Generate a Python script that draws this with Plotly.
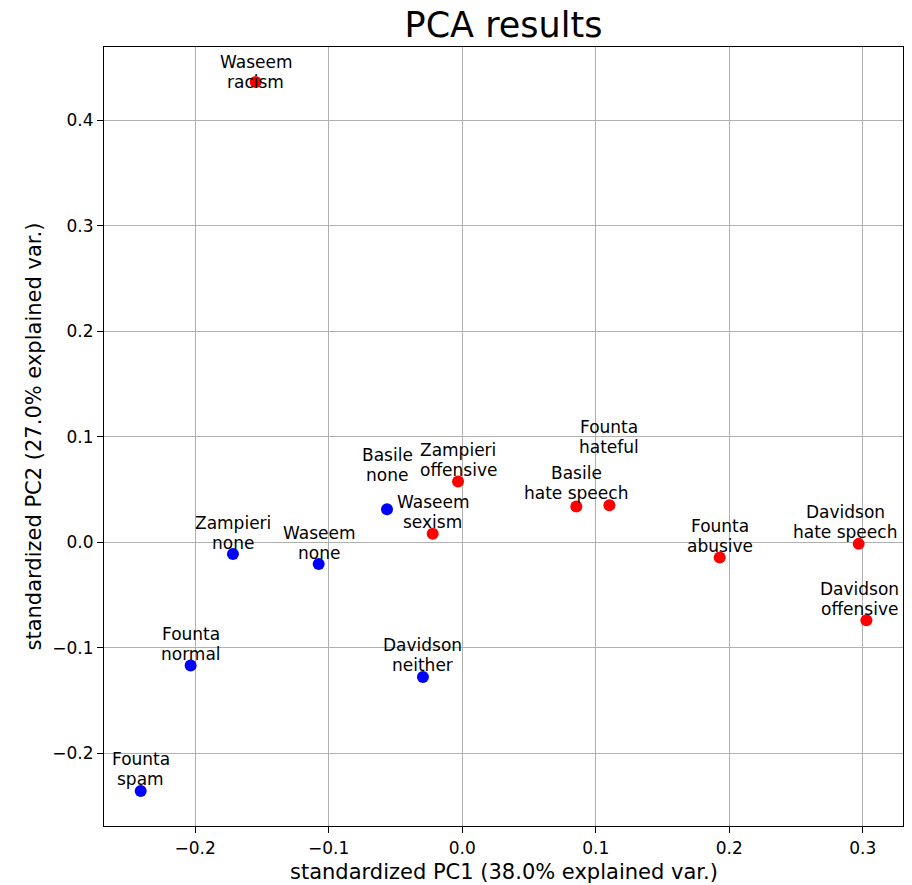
import plotly.graph_objects as go

# PCA coordinates of each dataset/class pair
datasets = ["Waseem", "Basile", "Zampieri", "Waseem", "Basile", "Founta", "Founta",
            "Davidson", "Davidson", "Zampieri", "Waseem", "Founta", "Davidson", "Founta"]
classes = ["racism", "none", "offensive", "sexism", "hate speech", "hateful", "abusive",
           "hate speech", "offensive", "none", "none", "normal", "neither", "spam"]
pc1 = [-0.1547, -0.0563, -0.0031, -0.0221, 0.0855, 0.1103, 0.1929,
       0.2970, 0.3028, -0.1717, -0.1075, -0.2034, -0.0294, -0.2408]
pc2 = [0.4364, 0.0314, 0.0576, 0.0080, 0.0339, 0.0352, -0.0145,
       -0.0015, -0.0739, -0.0110, -0.0205, -0.1169, -0.1277, -0.2358]
offensive = [True, False, True, True, True, True, True,
             True, True, False, False, False, False, False]

x_ticks = [-0.2, -0.1, 0.0, 0.1, 0.2, 0.3]
y_ticks = [-0.2, -0.1, 0.0, 0.1, 0.2, 0.3, 0.4]

x_title = "standardized PC1 (38.0% explained var.)"
y_title = "standardized PC2 (27.0% explained var.)"

FONT = "DejaVu Sans"
LINE_GAP = 19.8          # px between the two label lines
# px from marker centre up to the lower label line (nudged so labels do not collide)
rise = [0.5, 34.0, 11.4, 12.0, 13.7, 58.0, 11.7, 12.0, 11.6, 11.3, 11.3, 12.0, 11.7, 11.7]
nudge_x = [0, 0, 0, 0, 0, 0, 0, -13.5, -7, 0, 0, 0, 0, 0]

colors = ["#ff0000" if o else "#0000ff" for o in offensive]

fig = go.Figure()
fig.add_trace(go.Scatter(
    x=pc1, y=pc2, mode="markers",
    marker=dict(size=12, color=colors, line=dict(width=0)),
    hovertext=[f"{d} {c}" for d, c in zip(datasets, classes)],
    showlegend=False,
))

annotations = []
for d, c, x, y, r, dx in zip(datasets, classes, pc1, pc2, rise, nudge_x):
    for txt, shift in ((d, r + LINE_GAP), (c, r)):
        annotations.append(dict(
            x=x, y=y, xref="x", yref="y", text=txt, showarrow=False,
            xanchor="center", yanchor="middle", yshift=shift, xshift=dx,
            font=dict(family=FONT, size=17, color="black"),
        ))

# axis titles placed relative to the plotting area
annotations.append(dict(
    x=0.5, y=0, xref="paper", yref="paper", text=x_title, showarrow=False,
    xanchor="center", yanchor="middle", yshift=-46,
    font=dict(family=FONT, size=21, color="black"),
))
annotations.append(dict(
    x=0, y=0.5, xref="paper", yref="paper", text=y_title, showarrow=False,
    xanchor="center", yanchor="middle", xshift=-71, textangle=-90,
    font=dict(family=FONT, size=21, color="black"),
))

axis_common = dict(
    showgrid=True, gridcolor="#b0b0b0", gridwidth=1,
    zeroline=False, showline=True, linecolor="black", linewidth=1.2, mirror=True,
    ticks="outside", ticklen=6, tickwidth=1.2, tickcolor="black",
    tickfont=dict(family=FONT, size=17, color="black"),
    tickformat=".1f", automargin=False,
)

fig.update_layout(
    width=912, height=885,
    margin=dict(l=104, r=9, t=47, b=59),
    paper_bgcolor="white", plot_bgcolor="white",
    title=dict(text="PCA results", x=0.5, xref="paper", y=1 - 25 / 885, yanchor="middle",
               font=dict(family=FONT, size=35, color="black")),
    xaxis=dict(range=[-0.2683, 0.3302], tickvals=x_ticks, **axis_common),
    yaxis=dict(range=[-0.269, 0.4696], tickvals=y_ticks, **axis_common),
    annotations=annotations,
)

fig.write_html("out.html")
